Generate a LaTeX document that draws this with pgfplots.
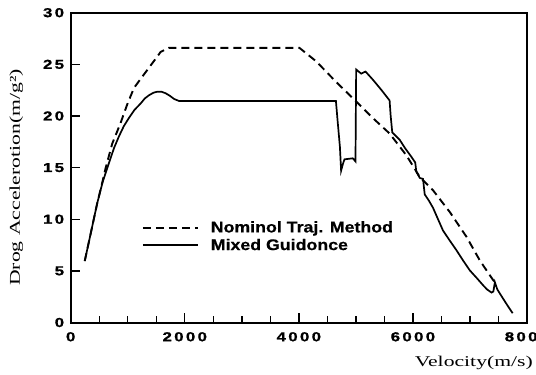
\documentclass[border=0pt]{standalone}
\usepackage{fontspec}
\setmainfont{Liberation Serif}
\newfontfamily\tickfont{Liberation Sans}[UprightFont=* Bold, BoldFont=* Bold, FakeStretch=1.3, LetterSpace=18, FakeBold=1.2]
\newfontfamily\legfont{Liberation Sans}[UprightFont=* Bold, BoldFont=* Bold, FakeStretch=1.15, FakeBold=0.6]
\newfontfamily\labfont{Liberation Serif}[FakeStretch=1.45]
\usepackage{pgfplots}
\pgfplotsset{compat=1.18}
\begin{document}
\begin{tikzpicture}
\begin{axis}[name=ax, scale only axis, width=456.3bp, height=309.8bp,
  xmin=0, xmax=8000, ymin=0, ymax=30,
  xtick={0,2000,4000,6000,8000}, minor x tick num=3,
  ytick={0,5,...,30},
  tick align=inside, xtick pos=bottom, ytick pos=left,
  major tick length=9bp, minor tick length=6bp,
  every tick/.style={black, line width=1.4bp},
  axis line style={line width=2bp},
  scaled x ticks=false,
  /pgf/number format/assume math mode=true,
  /pgf/number format/1000 sep={},
  xticklabel style={font=\tickfont\fontsize{13}{15}\selectfont, inner sep=0pt, anchor=north, yshift=-9.5bp},
  yticklabel style={font=\tickfont\fontsize{13}{15}\selectfont, inner sep=0pt, anchor=east, xshift=-6.4bp},
  xlabel={Velocity(m/s)},
  xlabel style={font=\labfont\fontsize{15}{18}\selectfont, at={([xshift=6bp,yshift=-33.5bp]axis description cs:1,0)}, anchor=north east, inner sep=0pt},
  ylabel={Drog Accelerotion(m/g²)},
  ylabel style={font=\labfont\fontsize{15}{18}\selectfont, at={([xshift=-47.4bp]axis description cs:0,0.468)}, anchor=south, inner sep=0pt},
  legend style={draw=none, fill=none, at={(axis description cs:0.1556,0.3276)}, anchor=north west, inner sep=0pt, row sep=5bp, font=\legfont\fontsize{15.5}{18}\selectfont, nodes={inner sep=0pt}},
  legend cell align=left,
  legend image code/.code={\draw[#1] (0bp,0bp) -- (55bp,0bp); \path (67bp,0bp);},
]
\addplot[black, line width=1.9bp, dash pattern=on 8bp off 5bp] coordinates {
(246,5.95) (350,8.6) (463,11.5) (560,13.7) (610,14.9) (727,17.3) (873,19.3)
(990,21.1) (1108,22.7) (1254,23.8) (1430,25.1) (1577,26.2) (1723,26.6)
(4009,26.6) (4302,25.3) (4653,23.3) (5005,21.4) (5297,19.8) (5591,18.3)
(5884,16.2) (6119,14.1) (6353,12.8) (6646,10.7) (6939,8.3) (7174,6.0)
(7407,4.1) (7437,3.9)
};
\addlegendentry{Nominol Traj. Method}
\addplot[black, line width=1.7bp] coordinates {
(246,5.95) (350,8.6) (463,11.5) (560,13.6) (668,15.4) (760,16.9) (844,18.0)
(930,19.0) (1020,19.8) (1120,20.6) (1225,21.2) (1300,21.7) (1371,22.0)
(1450,22.25) (1518,22.35) (1590,22.35) (1664,22.2) (1740,21.95) (1811,21.65)
(1899,21.45) (4650,21.45) (4680,19.5) (4720,17.0) (4741,14.7) (4770,15.3)
(4800,15.8) (4946,15.9) (4993,15.6) (5005,24.5) (5093,24.1) (5169,24.3)
(5300,23.5) (5450,22.5) (5591,21.5) (5610,20.0) (5638,18.4) (5767,17.7)
(5860,16.9) (5972,16.05) (6040,15.5) (6060,14.6) (6120,14.0) (6177,13.9)
(6207,12.4) (6280,11.8) (6353,11.1) (6440,10.0) (6528,8.9) (6650,7.9)
(6763,7.0) (6880,6.0) (6997,5.05) (7120,4.3) (7231,3.6) (7300,3.2)
(7378,2.9) (7410,3.0) (7437,3.9) (7480,3.2) (7525,2.8) (7640,1.8) (7748,0.9)
};
\addlegendentry{Mixed Guidonce}
\end{axis}
\pgfresetboundingbox
\path[use as bounding box] ([shift={(-70.7bp,-52.5bp)}]ax.south west) rectangle ([shift={(9bp,12.7bp)}]ax.north east);
\end{tikzpicture}
\end{document}
